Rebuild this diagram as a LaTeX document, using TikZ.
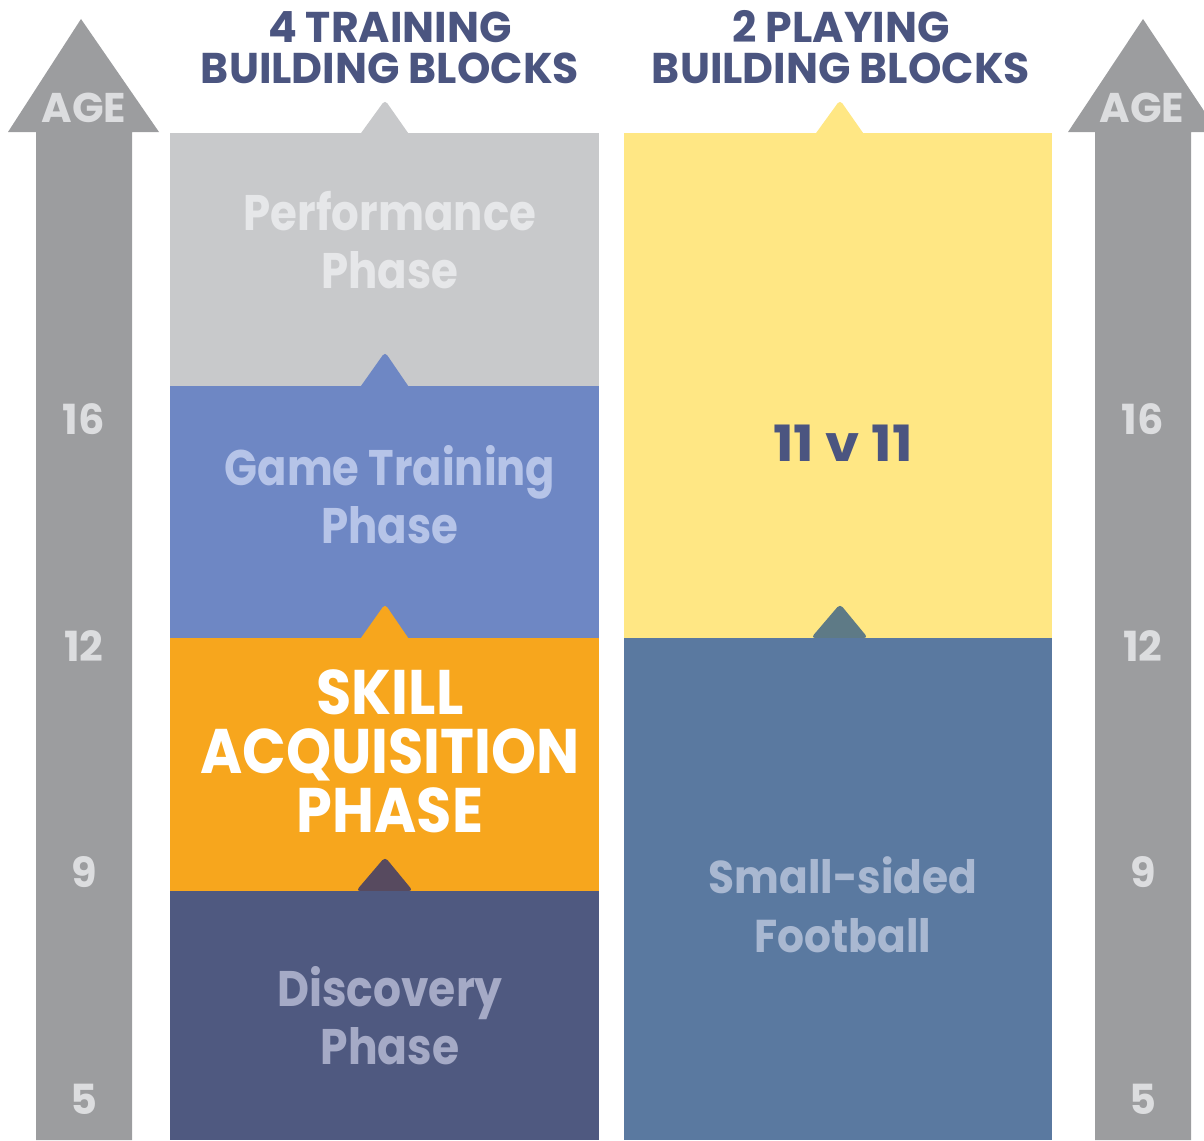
\documentclass[tikz,border=0pt]{standalone}
\usepackage{graphicx}
\usepackage{fontspec}
\setmainfont{Poppins}
\definecolor{arrowgray}{HTML}{9C9D9F}
\definecolor{arrowtext}{HTML}{DCDDDF}
\definecolor{headblue}{HTML}{4B5580}
\definecolor{perfbg}{HTML}{C8C9CB}
\definecolor{perftext}{HTML}{E6E7E9}
\definecolor{gamebg}{HTML}{6E87C4}
\definecolor{gametext}{HTML}{B6C4E8}
\definecolor{skillbg}{HTML}{F7A61D}
\definecolor{discbg}{HTML}{4F5980}
\definecolor{disctext}{HTML}{A5AAC6}
\definecolor{disctab}{HTML}{574A5F}
\definecolor{elevenbg}{HTML}{FFE784}
\definecolor{smallbg}{HTML}{5A79A0}
\definecolor{smalltext}{HTML}{A9B8D1}
\definecolor{smalltab}{HTML}{5E7A86}
\newcommand{\sxx}[2]{\scalebox{#1}[1]{#2}}
\tikzset{
  txt/.style={anchor=base, inner sep=0pt, font=\bfseries\fontsize{#1}{#1}\selectfont},
  agetxt/.style={txt=41.5, text=arrowtext},
  tab/.style={rounded corners=4pt},
}
\begin{document}
\begin{tikzpicture}[x=1pt,y=-1pt]
\useasboundingbox (0,0) rectangle (1204,1140);
% age arrows
\fill[arrowgray] (36,1140) -- (36,132) -- (8,132) -- (81,19) -- (159,132) -- (132,132) -- (132,1140) -- cycle;
\fill[arrowgray] (1095,1140) -- (1095,132) -- (1068,132) -- (1143,19) -- (1218,132) -- (1191,132) -- (1191,1140) -- cycle;
% left blocks
\fill[perfbg] (170,133) rectangle (599,386);
\fill[perfbg, tab] (356,140) -- (385,100) -- (413,140) -- cycle;
\fill[gamebg] (170,386) rectangle (599,638);
\fill[gamebg, tab] (356,393) -- (385,352) -- (413,393) -- cycle;
\fill[skillbg] (170,638) rectangle (599,891);
\fill[skillbg, tab] (356,645) -- (385,604) -- (413,645) -- cycle;
\fill[discbg] (170,891) rectangle (599,1140);
\fill[disctab, tab] (356,891) -- (385,857) -- (413,891) -- cycle;
\fill[discbg] (350,891) rectangle (420,900);
% right blocks
\fill[elevenbg] (624,133) rectangle (1052,638);
\fill[elevenbg, tab] (811,140) -- (840,100) -- (868,140) -- cycle;
\fill[smallbg] (624,638) rectangle (1052,1140);
\fill[smalltab, tab] (811,638) -- (840,604) -- (868,638) -- cycle;
\fill[smallbg] (805,638) rectangle (875,645);
% headers
\node[txt=43, text=headblue] (h1a) at (390,43) {\sxx{0.99}{4 TRAINING}};
\node[txt=43, text=headblue] (h1b) at (390,83) {\sxx{0.99}{BUILDING BLOCKS}};
\node[txt=43, text=headblue] (h2a) at (841,43) {\sxx{0.99}{2 PLAYING}};
\node[txt=43, text=headblue] (h2b) at (841,83) {\sxx{0.99}{BUILDING BLOCKS}};
% age labels
\node[agetxt] (agel) at (84,122) {AGE};
\node[agetxt] (ager) at (1142,122) {AGE};
\node[agetxt] (l16) at (84,434) {16};
\node[agetxt] (l12) at (84,661) {12};
\node[agetxt] (l9) at (84,887) {9};
\node[agetxt] (l5) at (84,1114) {5};
\node[agetxt] (r16) at (1143,434) {16};
\node[agetxt] (r12) at (1143,661) {12};
\node[agetxt] (r9) at (1143,887) {9};
\node[agetxt] (r5) at (1143,1114) {5};
% block texts
\node[txt=50, text=perftext] (perf1) at (390,230) {\sxx{0.87}{Performance}};
\node[txt=50, text=perftext] (perf2) at (390,288) {\sxx{0.87}{Phase}};
\node[txt=50, text=gametext] (game1) at (390,485) {\sxx{0.865}{Game Training}};
\node[txt=50, text=gametext] (game2) at (390,543) {\sxx{0.87}{Phase}};
\node[txt=63, text=white] (skill1) at (390,714) {\sxx{0.91}{SKILL}};
\node[txt=63, text=white] (skill2) at (390,773) {\sxx{0.91}{ACQUISITION}};
\node[txt=63, text=white] (skill3) at (390,832) {\sxx{0.91}{PHASE}};
\node[txt=50, text=disctext] (disc1) at (390,1006) {\sxx{0.88}{Discovery}};
\node[txt=50, text=disctext] (disc2) at (390,1064) {\sxx{0.88}{Phase}};
\node[txt=50, text=headblue] (eleven) at (843,461) {\sxx{1.09}{11 v 11}};
\node[txt=46, text=smalltext] (small1) at (843,893) {\sxx{0.92}{Small-sided}};
\node[txt=46, text=smalltext] (small2) at (843,952) {\sxx{0.92}{Football}};
\end{tikzpicture}
\end{document}
